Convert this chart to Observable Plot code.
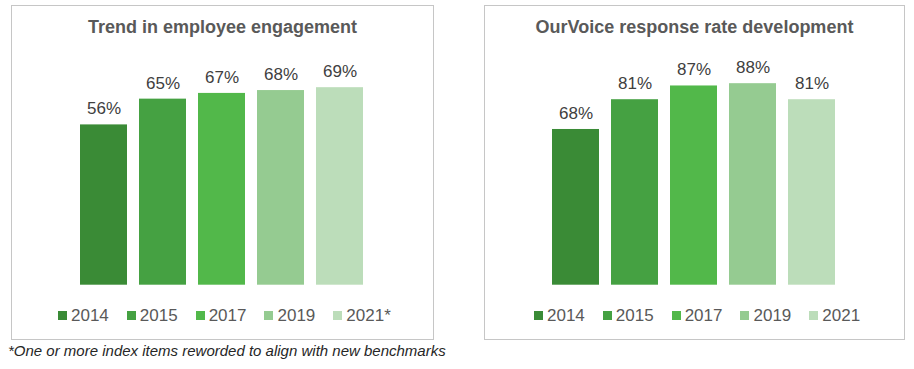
<!DOCTYPE html>
<html>
<head>
<meta charset="utf-8">
<script src="https://cdn.jsdelivr.net/npm/d3@7"></script>
<script src="https://cdn.jsdelivr.net/npm/@observablehq/plot@0.6"></script>
<style>
  html, body { margin: 0; padding: 0; background: #fff; }
  #root { position: relative; width: 914px; height: 369px; overflow: hidden; font-family: Arial, "Liberation Sans", sans-serif; }
  .frame { position: absolute; box-sizing: border-box; border: 1px solid #C6C6C6; }
  .title { position: absolute; text-align: center; font-weight: bold; font-size: 18px; line-height: 18px; color: #595959; white-space: nowrap; }
  .legend { position: absolute; font-size: 17px; line-height: 17px; color: #595959; white-space: nowrap; }
  .legend .item { display: inline-block; margin-right: 18px; }
  .legend .item:last-child { margin-right: 0; }
  .legend .sw { display: inline-block; width: 9px; height: 9px; margin-right: 4px; vertical-align: 1px; }
  .plot { position: absolute; }
  .note { position: absolute; left: 8px; top: 343px; font-size: 15px; line-height: 15px; font-style: italic; color: #262626; white-space: nowrap; }
</style>
</head>
<body>
<div id="root"></div>
<script>
// ---- data ----
const engagementYears = ["2014", "2015", "2017", "2019", "2021*"];
const engagementValues = [56, 65, 67, 68, 69];
const responseYears = ["2014", "2015", "2017", "2019", "2021"];
const responseValues = [68, 81, 87, 88, 81];
const barColors = ["#3A8B36", "#45A142", "#52B84A", "#95CB91", "#BCDDBA"];
const titles = ["Trend in employee engagement", "OurVoice response rate development"];
const footnote = "*One or more index items reworded to align with new benchmarks";

const root = document.getElementById("root");

function panel({left, top, width, height, title, years, values, yMax, xRange, legendLeft}) {
  const frame = document.createElement("div");
  frame.className = "frame";
  Object.assign(frame.style, {left: left + "px", top: top + "px", width: width + "px", height: height + "px"});
  root.appendChild(frame);

  const data = years.map((y, i) => ({year: y, value: values[i]}));
  const chart = Plot.plot({
    width: width,
    height: height,
    style: {fontFamily: "Arial, 'Liberation Sans', sans-serif", background: "transparent", overflow: "visible"},
    x: {domain: years, range: xRange, paddingInner: 0.21, paddingOuter: 0.105, axis: null},
    y: {domain: [0, yMax], range: [279.7, 50.7], axis: null},
    color: {domain: years, range: barColors},
    marks: [
      Plot.barY(data, {x: "year", y: "value", fill: "year"}),
      Plot.text(data, {x: "year", y: "value", text: d => d.value + "%", dy: -10.5, lineAnchor: "bottom", textAnchor: "middle", fontSize: 17, fill: "#404040"})
    ]
  });
  chart.classList.add("plot");
  chart.style.left = left + "px";
  chart.style.top = top + "px";
  root.appendChild(chart);

  const t = document.createElement("div");
  t.className = "title";
  t.textContent = title;
  Object.assign(t.style, {left: left + "px", top: "17.5px", width: width + "px"});
  root.appendChild(t);

  const lg = document.createElement("div");
  lg.className = "legend";
  lg.style.left = legendLeft + "px";
  lg.style.top = "306.5px";
  years.forEach((y, i) => {
    const it = document.createElement("span");
    it.className = "item";
    const sw = document.createElement("span");
    sw.className = "sw";
    sw.style.background = barColors[i];
    it.appendChild(sw);
    it.appendChild(document.createTextNode(y));
    lg.appendChild(it);
  });
  root.appendChild(lg);
}

panel({left: 11, top: 5, width: 423, height: 335, title: titles[0], years: engagementYears, values: engagementValues, yMax: 80, xRange: [61.75, 359.25], legendLeft: 58});
panel({left: 484, top: 5, width: 421, height: 335, title: titles[1], years: responseYears, values: responseValues, yMax: 100, xRange: [61.3, 358.2], legendLeft: 534});

const note = document.createElement("div");
note.className = "note";
note.textContent = footnote;
root.appendChild(note);
</script>
</body>
</html>
